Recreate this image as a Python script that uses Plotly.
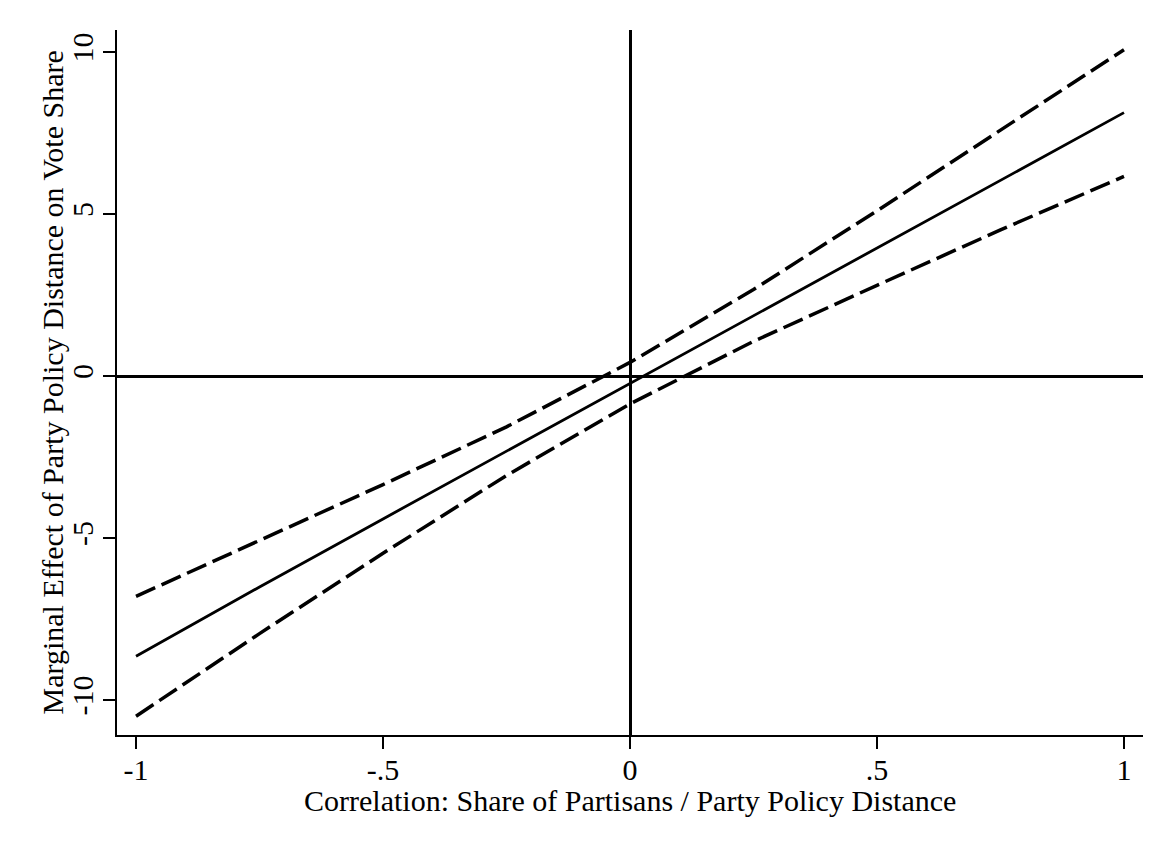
import plotly.graph_objects as go

# Values
corr = [-1.0, -0.75, -0.5, -0.25, 0.0, 0.25, 0.5, 0.75, 1.0]
effect = [-8.65, -6.51, -4.41, -2.32, -0.22, 1.87, 3.95, 6.05, 8.13]
upper = [-6.80, -5.07, -3.35, -1.57, 0.42, 2.67, 5.10, 7.59, 10.07]
lower = [-10.50, -7.95, -5.47, -3.07, -0.86, 1.07, 2.80, 4.51, 6.16]

x_tickvals = [-1, -0.5, 0, 0.5, 1]
x_ticktext = ["-1", "-.5", "0", ".5", "1"]
y_tickvals = [-10, -5, 0, 5, 10]
y_ticktext = ["-10", "-5", "0", "5", "10"]

x_title = "Correlation: Share of Partisans / Party Policy Distance"
y_title = "Marginal Effect of Party Policy Distance on Vote Share"

FONT = "Liberation Serif, Times New Roman, serif"
FS = 30

fig = go.Figure()
fig.add_trace(go.Scatter(x=corr, y=upper, mode="lines",
                         line=dict(color="black", width=3.5, dash="21px,7px"),
                         showlegend=False, hoverinfo="skip"))
fig.add_trace(go.Scatter(x=corr, y=effect, mode="lines",
                         line=dict(color="black", width=2.8),
                         showlegend=False))
fig.add_trace(go.Scatter(x=corr, y=lower, mode="lines",
                         line=dict(color="black", width=3.5, dash="21px,7px"),
                         showlegend=False, hoverinfo="skip"))

W, H = 1173, 847
ml, mr, mt, mb = 109, 38, 22, 120
pw, ph = W - ml - mr, H - mt - mb

def px_to_paper_x(px):
    return (px - ml) / pw

def py_to_paper_y(py):
    return (H - mb - py) / ph

fig.add_shape(type="rect", xref="paper", yref="paper",
              x0=px_to_paper_x(-10), x1=px_to_paper_x(1160),
              y0=py_to_paper_y(860), y1=py_to_paper_y(-10),
              fillcolor="white", line=dict(color="#dfe7eb", width=1),
              layer="below")

fig.add_annotation(text=x_title, xref="paper", yref="paper",
                   x=0.5, y=py_to_paper_y(792), xanchor="center", yanchor="middle",
                   showarrow=False, font=dict(family=FONT, size=FS, color="black"))
fig.add_annotation(text=y_title, xref="paper", yref="paper",
                   x=px_to_paper_x(44), y=0.5, xanchor="center", yanchor="middle",
                   textangle=-90, showarrow=False,
                   font=dict(family=FONT, size=FS, color="black"))

fig.update_layout(
    width=W, height=H,
    margin=dict(l=ml, r=mr, t=mt, b=mb, autoexpand=False),
    paper_bgcolor="#f3f7f9",
    plot_bgcolor="white",
    font=dict(family=FONT, size=FS, color="black"),
    xaxis=dict(
        range=[-1.0385, 1.0385],
        tickmode="array", tickvals=x_tickvals, ticktext=x_ticktext,
        ticks="outside", ticklen=12, tickwidth=1.5, tickcolor="black",
        ticklabelstandoff=-5,
        showline=True, linecolor="black", linewidth=2,
        showgrid=False, automargin=False,
        zeroline=True, zerolinecolor="black", zerolinewidth=2.5,
        tickfont=dict(family=FONT, size=FS),
    ),
    yaxis=dict(
        range=[-11.08, 10.68],
        tickmode="array", tickvals=y_tickvals, ticktext=y_ticktext,
        tickangle=-90,
        ticks="outside", ticklen=12, tickwidth=1.5, tickcolor="black",
        ticklabelstandoff=-2,
        showline=True, linecolor="black", linewidth=2,
        showgrid=False, automargin=False,
        zeroline=True, zerolinecolor="black", zerolinewidth=2.5,
        tickfont=dict(family=FONT, size=FS),
    ),
)

fig.write_html("out.html")
